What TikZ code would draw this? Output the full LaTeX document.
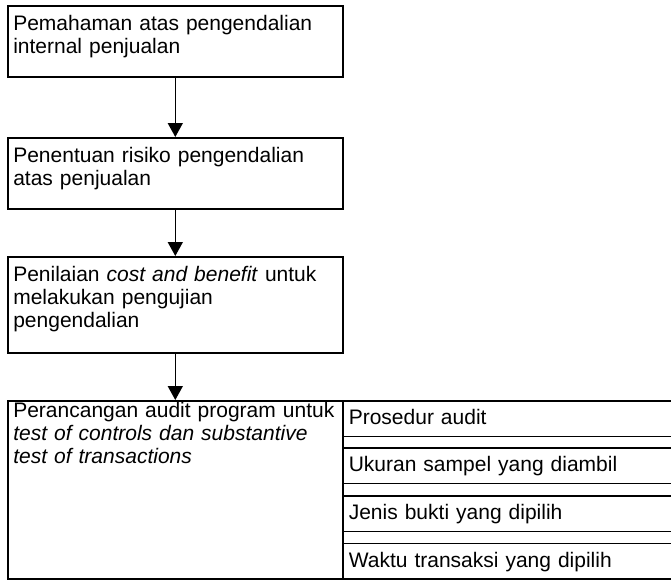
\documentclass[tikz,border=0pt]{standalone}
\usepackage{fontspec}
\setmainfont{Liberation Sans}
\usepackage{tikz}
\usetikzlibrary{positioning,arrows.meta}

\begin{document}
\begin{tikzpicture}[
  x=1pt,y=-1pt,
  every node/.style={font=\fontsize{21}{23}\selectfont},
  block/.style={draw,line width=1.6pt,anchor=north west,text width=324pt,align=left,inner xsep=5.5pt,inner ysep=10pt,text height=15pt},
  item/.style={draw,line width=1.6pt,anchor=north west,text width=318pt,align=left,inner xsep=6pt,inner ysep=0pt,minimum height=35.5pt,text height=15pt,text depth=3pt},
  arrow/.style={-{Triangle[length=14pt,width=15pt]},line width=1.6pt}
]
  \useasboundingbox (0,0) rectangle (671,579);
  \node[block,text depth=36pt] (paham) at (7,5) {Pemahaman atas pengendalian\\ internal penjualan};
  \node[block,text depth=36pt] (risiko) at (7,137) {Penentuan risiko pengendalian\\ atas penjualan};
  \node[block,text depth=61pt] (nilai) at (7,256) {Penilaian \textit{cost and benefit} untuk\\ melakukan pengujian\\ pengendalian};
  \node[block,inner ysep=2pt,text depth=159pt] (rancang) at (7,400) {Perancangan audit program untuk\\ \textit{test of controls dan substantive}\\ \textit{test of transactions}};
  \node[item] (prosedur) at (342,400) {Prosedur audit};
  \node[item] (sampel) at (342,447) {Ukuran sampel yang diambil};
  \node[item] (bukti) at (342,495) {Jenis bukti yang dipilih};
  \node[item] (waktu) at (342,542.5) {Waktu transaksi yang dipilih};
  \draw[arrow] (paham) -- (risiko);
  \draw[arrow] (risiko) -- (nilai);
  \draw[arrow] (nilai) -- (rancang);
\end{tikzpicture}
\end{document}
